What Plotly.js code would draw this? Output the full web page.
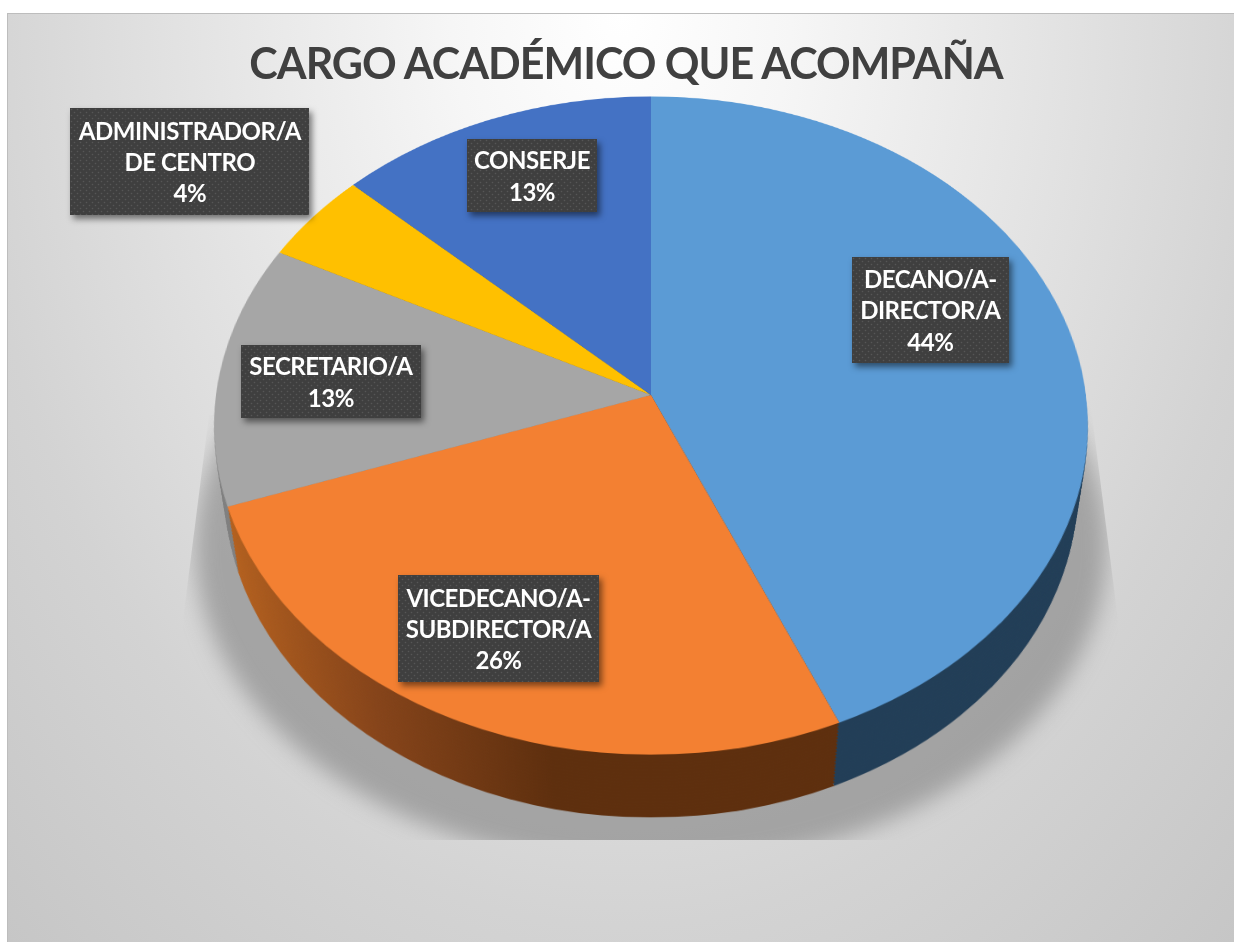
<!DOCTYPE html>
<html>
<head>
<meta charset="utf-8">
<script src="https://cdn.plot.ly/plotly-3.0.1.min.js"></script>
<style>
  html, body { margin: 0; padding: 0; background: #fff; overflow: hidden; }
  #stage { position: absolute; left: 0; top: 0; width: 1234px; height: 942px; overflow: hidden; }
  #panel { position: absolute; left: 7px; top: 13px; width: 1227px; height: 929px; box-sizing: border-box;
           border-left: 1.5px solid #bdbdbd; border-top: 1.5px solid #bdbdbd;
           background: radial-gradient(680px 950px at 613px 0px, #ffffff 0%, #f6f6f6 25%, #d3d3d3 96%, #c0c0c0 150%); }
  #shadowClip { position: absolute; left: 0; top: 0; width: 1234px; height: 942px;
           clip-path: polygon(209px 415px, 183px 620px, 183px 840px, 1118px 840px, 1118px 620px, 1090px 400px); }
  #shadow { position: absolute; left: 195px; top: 225px; width: 912px; height: 642px; border-radius: 50%;
           background: rgba(125,125,125,.58); filter: blur(11px); }
  #scene { position: absolute; left: 0; top: 0; width: 1234px; height: 942px;
           perspective: 3091px; perspective-origin: 651px 395px; transform-style: preserve-3d; }
  .disc { position: absolute; left: 216px; top: -40px; width: 870px; height: 870px; transform-origin: 50% 50%; }
  #overlay { position: absolute; left: 0; top: 0; width: 1234px; height: 942px; }
</style>
</head>
<body>
<div id="stage">
  <div id="panel"></div>
  <div id="shadowClip"><div id="shadow"></div></div>
  <div id="scene"></div>
  <div id="overlay"></div>
</div>
<script>
var chartTitle = 'CARGO ACADÉMICO QUE ACOMPAÑA';
var categories = ['DECANO/A-<br>DIRECTOR/A', 'VICEDECANO/A-<br>SUBDIRECTOR/A', 'SECRETARIO/A', 'ADMINISTRADOR/A<br>DE CENTRO', 'CONSERJE'];
var values = [43.52, 26.1, 12.9, 4.49, 12.99];
var topColors = ['#5B9BD5', '#F38032', '#A6A6A6', '#FFC000', '#4472C4'];
var sideColors = ['#223E57', '#5E2F0E', '#808080', '#8F6C00', '#263F70'];
var labelLeft = [852, 398, 241, 70, 467];
var labelRight = [1009, 599, 421, 309, 597];
var labelTop = [257, 575, 345, 108, 139];
var labelBottom = [363, 682, 418, 215, 212];

var W = 1234, H = 942;
var tilt = 41.4, depth = 102, steps = 20;
var total = values.reduce(function (a, b) { return a + b; }, 0);
var scene = document.getElementById('scene');
var NS = 'http://www.w3.org/2000/svg';

function drawDisc(z, colors) {
  var d = document.createElement('div');
  d.className = 'disc';
  d.style.transform = 'rotateX(' + tilt + 'deg) translateZ(' + z + 'px)';
  scene.appendChild(d);
  return Plotly.newPlot(d, [{
    type: 'pie', values: values, labels: categories, sort: false, direction: 'clockwise', rotation: 0,
    textinfo: 'none', hoverinfo: 'skip', showlegend: false,
    marker: { colors: colors, line: { width: 0 } }
  }], {
    width: 870, height: 870, margin: { l: 0, r: 0, t: 0, b: 0, pad: 0 },
    paper_bgcolor: 'rgba(0,0,0,0)', plot_bgcolor: 'rgba(0,0,0,0)', showlegend: false
  }, { staticPlot: true, displayModeBar: false }).then(function () { return d; });
}

function shadeSide(d) {
  var svg = d.querySelector('svg.main-svg');
  var defs = svg.querySelector('defs') || svg.insertBefore(document.createElementNS(NS, 'defs'), svg.firstChild);
  var g = document.createElementNS(NS, 'linearGradient');
  var id = 'orangeSide' + Math.random().toString(36).slice(2);
  g.setAttribute('id', id);
  g.setAttribute('gradientUnits', 'userSpaceOnUse');
  g.setAttribute('x1', 10); g.setAttribute('x2', 345); g.setAttribute('y1', 0); g.setAttribute('y2', 0);
  [['0', '#B8631F'], ['0.5', '#86441A'], ['1', '#5E2F0E']].forEach(function (s) {
    var st = document.createElementNS(NS, 'stop');
    st.setAttribute('offset', s[0]); st.setAttribute('stop-color', s[1]);
    g.appendChild(st);
  });
  defs.appendChild(g);
  var paths = d.querySelectorAll('.slice path.surface');
  if (paths[1]) paths[1].style.fill = 'url(#' + id + ')';
}

for (var i = steps; i >= 1; i--) {
  drawDisc(-depth * i / steps, sideColors).then(shadeSide);
}
drawDisc(0, topColors);

var annotations = categories.map(function (c, i) {
  return {
    xref: 'paper', yref: 'paper',
    x: (labelLeft[i] + labelRight[i]) / 2 / W, y: 1 - (labelTop[i] + labelBottom[i]) / 2 / H,
    xanchor: 'center', yanchor: 'middle', showarrow: false, align: 'center', valign: 'middle',
    width: labelRight[i] - labelLeft[i], height: labelBottom[i] - labelTop[i],
    text: c + '<br>' + Math.round(values[i] / total * 100) + '%',
    bgcolor: '#3F3F3F', borderpad: 0, borderwidth: 0,
    font: { family: 'Lato, "Open Sans", sans-serif', size: 24, color: '#ffffff', weight: 700 }
  };
});

Plotly.newPlot('overlay', [], {
  width: W, height: H, margin: { l: 0, r: 0, t: 0, b: 0 },
  paper_bgcolor: 'rgba(0,0,0,0)', plot_bgcolor: 'rgba(0,0,0,0)',
  xaxis: { visible: false }, yaxis: { visible: false },
  title: {
    text: '<b>' + chartTitle + '</b>', x: 626 / W, xanchor: 'center', y: 1 - 64 / H, yanchor: 'middle',
    font: { family: 'Lato, "Open Sans", sans-serif', size: 43, color: '#404040' }
  },
  annotations: annotations
}, { staticPlot: true, displayModeBar: false }).then(function () {
  var root = document.getElementById('overlay');
  var svg = root.querySelector('svg.main-svg');
  var defs = svg.querySelector('defs') || svg.insertBefore(document.createElementNS(NS, 'defs'), svg.firstChild);
  var p = document.createElementNS(NS, 'pattern');
  p.setAttribute('id', 'labelDots');
  p.setAttribute('patternUnits', 'userSpaceOnUse');
  p.setAttribute('width', 6); p.setAttribute('height', 6);
  [['rect', { width: 6, height: 6, fill: '#3F3F3F' }],
   ['circle', { cx: 1.5, cy: 1.5, r: 0.8, fill: '#565656' }],
   ['circle', { cx: 4.5, cy: 4.5, r: 0.8, fill: '#565656' }]].forEach(function (e) {
    var n = document.createElementNS(NS, e[0]);
    for (var k in e[1]) n.setAttribute(k, e[1][k]);
    p.appendChild(n);
  });
  defs.appendChild(p);
  root.querySelectorAll('.annotation rect.bg').forEach(function (r) {
    r.style.fill = 'url(#labelDots)';
    r.style.fillOpacity = 1;
    r.style.filter = 'drop-shadow(3px 4px 3px rgba(0,0,0,.5))';
  });
  root.querySelectorAll('.annotation text').forEach(function (t) { t.style.letterSpacing = '-0.5px'; });
  root.querySelectorAll('.gtitle').forEach(function (t) { t.style.letterSpacing = '-1px'; });
});
</script>
</body>
</html>
